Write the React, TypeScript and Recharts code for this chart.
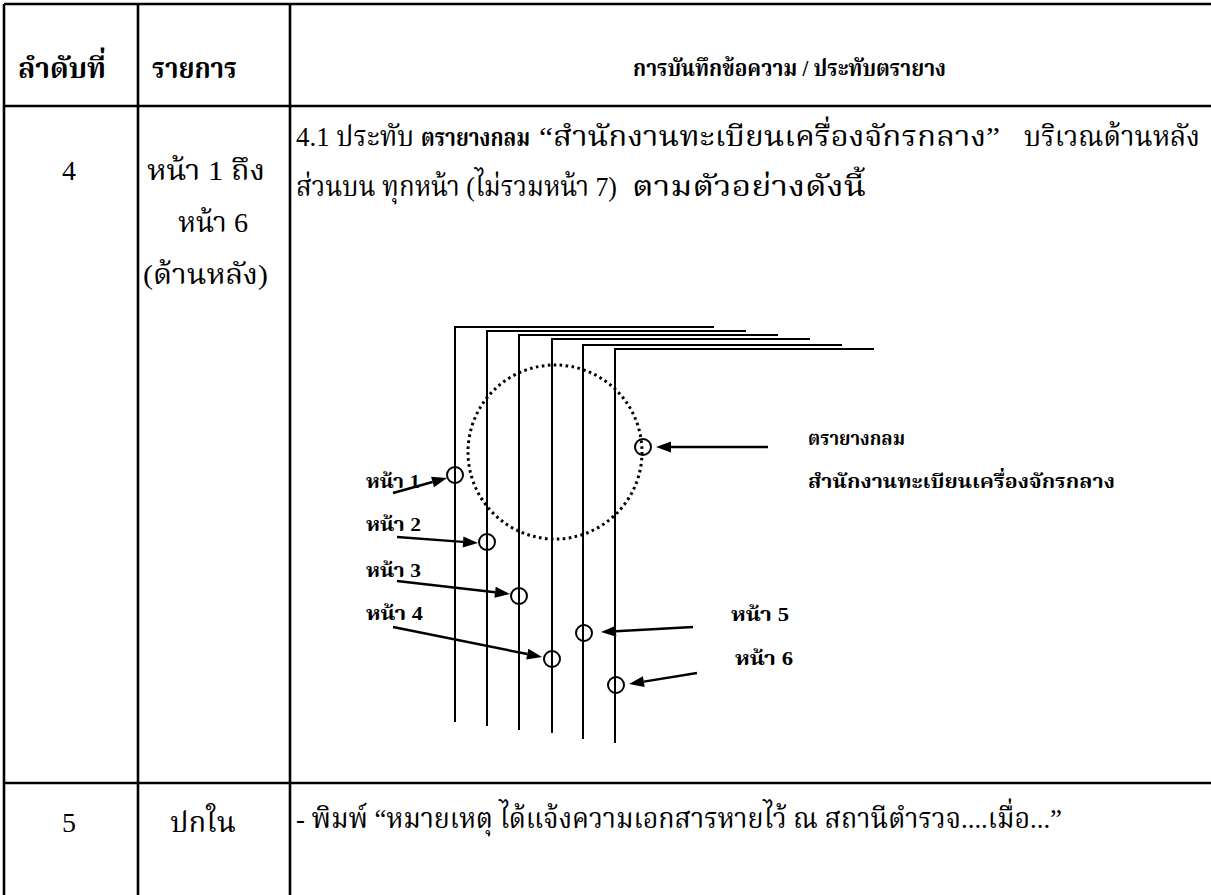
import { ComposedChart, XAxis, YAxis, Scatter, ReferenceLine, ReferenceDot } from "recharts";

const W = 1211;
const H = 895;

const THAI = "'Liberation Serif', 'Noto Serif Thai', 'Noto Sans Thai', Loma, Garuda, Norasi, serif";

// table rules
const tableRows = [4, 106, 783];
const tableCols = [4, 138, 290];

// sketch: stacked pages (left edge, top edge, end of top edge, bottom end)
const sheets = [
  { x: 455, top: 327, right: 714, bottom: 722 },
  { x: 487, top: 331, right: 746, bottom: 726 },
  { x: 519, top: 335, right: 778, bottom: 730 },
  { x: 552, top: 339, right: 810, bottom: 733 },
  { x: 583, top: 345, right: 842, bottom: 739 },
  { x: 615, top: 349, right: 874, bottom: 743 },
];

// small circles where each page gets a part of the stamp
const stampMarks = [
  { x: 455, y: 475 },
  { x: 487, y: 542 },
  { x: 519, y: 596 },
  { x: 552, y: 659 },
  { x: 584, y: 633 },
  { x: 616, y: 685 },
  { x: 643, y: 447 },
];

const stampCentre = { x: 555, y: 452 };

const arrows = [
  { x1: 768, y1: 447, x2: 656, y2: 447 },
  { x1: 393, y1: 493, x2: 447, y2: 478 },
  { x1: 397, y1: 537, x2: 478, y2: 543 },
  { x1: 397, y1: 581, x2: 510, y2: 594 },
  { x1: 393, y1: 627, x2: 542, y2: 657 },
  { x1: 693, y1: 627, x2: 601, y2: 632 },
  { x1: 697, y1: 673, x2: 629, y2: 684 },
];

const headerCells = [
  { x: 18, y: 78, end: 106, text: "ลำดับที่" },
  { x: 152, y: 78, end: 237, text: "รายการ" },
];

const headerTitle = [{ x: 633, y: 76, end: 946, text: "การบันทึกข้อความ / ประทับตรายาง" }];

const bodyText = [
  { x: 62, y: 180, text: "4" },
  { x: 147, y: 180, end: 265, text: "หน้า 1 ถึง" },
  { x: 178, y: 232, end: 248, text: "หน้า 6" },
  { x: 143, y: 284, end: 268, text: "(ด้านหลัง)" },
  { x: 296, y: 146, end: 414, text: "4.1 ประทับ" },
  { x: 539, y: 146, end: 1000, text: "“สำนักงานทะเบียนเครื่องจักรกลาง”" },
  { x: 1024, y: 146, end: 1200, text: "บริเวณด้านหลัง" },
  { x: 296, y: 196, end: 617, text: "ส่วนบน ทุกหน้า (ไม่รวมหน้า  7)" },
  { x: 632, y: 196, end: 866, text: "ตามตัวอย่างดังนี้" },
  { x: 62, y: 832, text: "5" },
  { x: 170, y: 832, end: 236, text: "ปกใน" },
  { x: 296, y: 828, end: 1062, text: "- พิมพ์ “หมายเหตุ ได้แจ้งความเอกสารหายไว้ ณ สถานีตำรวจ....เมื่อ...”" },
];

const bodyBold = [{ x: 421, y: 146, end: 530, text: "ตรายางกลม" }];

const sketchLabels = [
  { x: 366, y: 488, end: 420, text: "หน้า 1" },
  { x: 366, y: 531, end: 421, text: "หน้า 2" },
  { x: 366, y: 577, end: 421, text: "หน้า 3" },
  { x: 366, y: 620, end: 423, text: "หน้า 4" },
  { x: 731, y: 621, end: 789, text: "หน้า 5" },
  { x: 735, y: 665, end: 793, text: "หน้า 6" },
  { x: 808, y: 445, end: 905, text: "ตรายางกลม" },
  { x: 808, y: 488, end: 1115, text: "สำนักงานทะเบียนเครื่องจักรกลาง" },
];

type Label = { x: number; y: number; end?: number; text: string };

const textShape = (size: number, weight: number) => (p: any) => {
  const d: Label = p.payload;
  return (
    <text
      x={p.cx}
      y={p.cy}
      fontSize={size}
      fontWeight={weight}
      fontFamily={THAI}
      fill="#000"
      textLength={d.end ? d.end - d.x : undefined}
      lengthAdjust="spacingAndGlyphs"
    >
      {d.text}
    </text>
  );
};

const arrowShape = (p: any) => {
  const { x1, y1, x2, y2 } = p;
  const dx = x2 - x1;
  const dy = y2 - y1;
  const len = Math.hypot(dx, dy) || 1;
  const ux = dx / len;
  const uy = dy / len;
  const hl = 15;
  const hw = 5.5;
  const bx = x2 - ux * hl;
  const by = y2 - uy * hl;
  return (
    <g>
      <line x1={x1} y1={y1} x2={bx} y2={by} stroke="#000" strokeWidth={2.4} />
      <polygon
        points={`${x2},${y2} ${bx - uy * hw},${by + ux * hw} ${bx + uy * hw},${by - ux * hw}`}
        fill="#000"
      />
    </g>
  );
};

const ringShape = (p: any) => (
  <circle cx={p.cx} cy={p.cy} r={8} fill="none" stroke="#000" strokeWidth={2} />
);

const App = () => {
  return (
    <div style={{ position: "absolute", left: 0, top: 0, background: "#fff" }}>
      <ComposedChart width={W} height={H} margin={{ top: 0, right: 0, bottom: 0, left: 0 }}>
        <XAxis type="number" dataKey="x" domain={[0, W]} hide allowDataOverflow />
        <YAxis type="number" dataKey="y" domain={[0, H]} reversed hide allowDataOverflow />

        {tableRows.map((y) => (
          <ReferenceLine
            key={`r${y}`}
            segment={[{ x: 4, y }, { x: W, y }]}
            stroke="#000"
            strokeWidth={2.6}
          />
        ))}
        {tableCols.map((x) => (
          <ReferenceLine
            key={`c${x}`}
            segment={[{ x, y: 4 }, { x, y: H }]}
            stroke="#000"
            strokeWidth={2.6}
          />
        ))}

        {sheets.map((s, i) => (
          <Scatter
            key={`s${i}`}
            data={[
              { x: s.x, y: s.bottom },
              { x: s.x, y: s.top },
              { x: s.right, y: s.top },
            ]}
            line={{ stroke: "#000", strokeWidth: 2 }}
            shape={() => <g />}
            isAnimationActive={false}
          />
        ))}

        <ReferenceDot
          x={stampCentre.x}
          y={stampCentre.y}
          r={87}
          fill="none"
          stroke="#000"
          strokeWidth={3}
          strokeDasharray="2.6 3.4"
        />

        <Scatter data={stampMarks} shape={ringShape} isAnimationActive={false} />

        {arrows.map((a, i) => (
          <ReferenceLine
            key={`a${i}`}
            segment={[{ x: a.x1, y: a.y1 }, { x: a.x2, y: a.y2 }]}
            shape={arrowShape}
          />
        ))}

        <Scatter data={headerCells} shape={textShape(29, 700)} isAnimationActive={false} />
        <Scatter data={headerTitle} shape={textShape(23, 700)} isAnimationActive={false} />
        <Scatter data={bodyText} shape={textShape(28, 400)} isAnimationActive={false} />
        <Scatter data={bodyBold} shape={textShape(25, 700)} isAnimationActive={false} />
        <Scatter data={sketchLabels} shape={textShape(19, 700)} isAnimationActive={false} />
      </ComposedChart>
    </div>
  );
};

export default App;
